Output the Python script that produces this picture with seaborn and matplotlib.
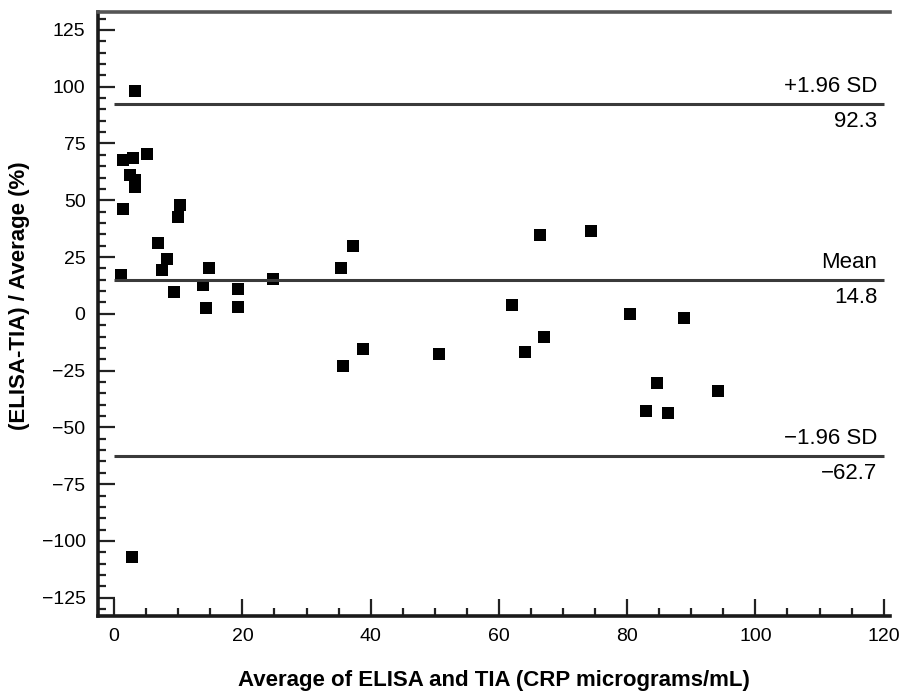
import matplotlib
matplotlib.use("Agg")
import matplotlib.pyplot as plt
import seaborn as sns
import pandas as pd
from matplotlib.ticker import MultipleLocator

# Data
avg_x = [3.2, 1.4, 3.0, 5.1, 2.4, 3.3, 3.2, 1.4, 10.3, 10.0, 6.8, 8.2, 7.5, 1.0,
         9.4, 14.8, 13.9, 14.4, 19.3, 19.3, 24.7, 2.8,
         37.2, 35.4, 66.4, 74.3, 62.1, 38.8, 35.7, 50.7, 67.0, 64.0,
         80.4, 88.9, 84.6, 94.1, 83.0, 86.3]
diff_pct = [98.2, 67.9, 68.6, 70.3, 61.0, 59.0, 56.0, 46.0, 47.8, 42.7, 31.3, 24.0, 19.2, 17.0,
            9.8, 20.3, 12.7, 2.5, 10.9, 2.9, 15.3, -106.9,
            29.7, 20.2, 34.5, 36.4, 3.8, -15.6, -22.9, -17.8, -10.2, -16.7,
            0.1, -1.8, -30.4, -34.0, -42.7, -43.5]

ref_values = [92.3, 14.8, -62.7]
ref_names = ["+1.96 SD", "Mean", "\u22121.96 SD"]
ref_value_labels = ["92.3", "14.8", "\u221262.7"]

x_ticks = [0, 20, 40, 60, 80, 100, 120]
y_ticks = [125, 100, 75, 50, 25, 0, -25, -50, -75, -100, -125]

df = pd.DataFrame({"x": avg_x, "y": diff_pct})

sns.set_style("white")
plt.rcParams["font.family"] = ["Liberation Sans", "DejaVu Sans"]
plt.rcParams["text.color"] = "black"
plt.rcParams["axes.labelcolor"] = "black"
plt.rcParams["xtick.color"] = "black"
plt.rcParams["ytick.color"] = "black"

fig = plt.figure(figsize=(9, 6.92), dpi=100)
ax = fig.add_axes([0.109, 0.110, 0.880, 0.873])

sns.scatterplot(data=df, x="x", y="y", marker="s", s=75, color="black",
                linewidth=0, ax=ax, legend=False)

for v, name, lab in zip(ref_values, ref_names, ref_value_labels):
    ax.hlines(v, 0, 120, color="#3a3a3a", linewidth=2.2, zorder=1)
    ax.annotate(name, xy=(119.0, v), xytext=(0, 5), textcoords="offset points",
                ha="right", va="bottom", fontsize=16, color="black")
    ax.annotate(lab, xy=(119.0, v), xytext=(0, -5), textcoords="offset points",
                ha="right", va="top", fontsize=16, color="black")

ax.set_xlim(-2.5, 121)
ax.set_ylim(-133, 133)
ax.set_xticks(x_ticks)
ax.set_yticks(y_ticks)
ax.xaxis.set_minor_locator(MultipleLocator(5))
ax.yaxis.set_minor_locator(MultipleLocator(5))
ax.tick_params(axis="both", which="major", direction="in", length=12, width=1.6,
               color="#222222", labelsize=14, pad=9, labelcolor="black")
ax.tick_params(axis="both", which="minor", direction="in", length=6, width=1.6,
               color="#222222")
ax.tick_params(axis="x", which="both", bottom=True)
ax.tick_params(axis="y", which="both", left=True)

for side in ["left", "bottom"]:
    ax.spines[side].set_color("#1a1a1a")
    ax.spines[side].set_linewidth(2.6)
ax.spines["top"].set_color("#555555")
ax.spines["top"].set_linewidth(2.6)
ax.spines["right"].set_visible(False)

ax.set_xlabel("Average of ELISA and TIA (CRP micrograms/mL)", fontsize=16,
              fontweight="bold", color="black", labelpad=18)
ax.set_ylabel("(ELISA-TIA) / Average (%)", fontsize=16,
              fontweight="bold", color="black")
ax.yaxis.set_label_coords(-0.086, 0.53)

fig.savefig("out.png", dpi=100)
